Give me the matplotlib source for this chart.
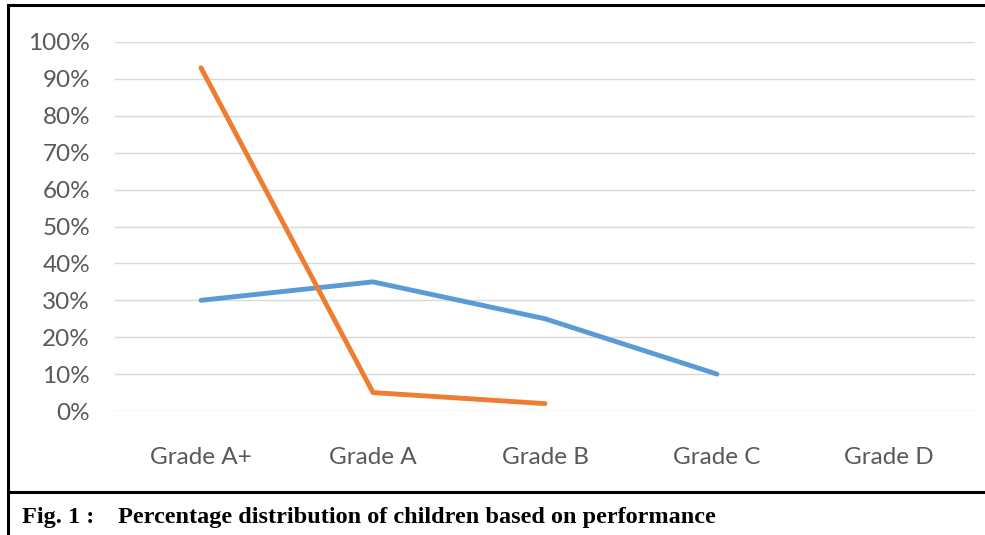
import matplotlib
matplotlib.use('Agg')
import matplotlib.pyplot as plt
from matplotlib.lines import Line2D

# data
grades = ['Grade A+', 'Grade A', 'Grade B', 'Grade C', 'Grade D']
blue_vals = [0.30, 0.35, 0.25, 0.10]
orange_vals = [0.93, 0.05, 0.02]
yticks = [0.0, 0.1, 0.2, 0.3, 0.4, 0.5, 0.6, 0.7, 0.8, 0.9, 1.0]
ytick_labels = ['0%', '10%', '20%', '30%', '40%', '50%', '60%', '70%', '80%', '90%', '100%']
caption_fig = 'Fig. 1 :'
caption_text = 'Percentage distribution of children based on performance'

W, H = 985, 535
fig = plt.figure(figsize=(W / 100, H / 100), dpi=100)

def fx(px):
    return px / W

def fy(py):
    return 1 - py / H

ax = fig.add_axes([fx(115), fy(411), fx(975) - fx(115), fy(42) - fy(411)])

ax.plot(range(len(blue_vals)), blue_vals, color='#5B9BD5', lw=3.5,
        solid_capstyle='round', solid_joinstyle='round', clip_on=False, zorder=3)
ax.plot(range(len(orange_vals)), orange_vals, color='#ED7D31', lw=3.5,
        solid_capstyle='round', solid_joinstyle='round', clip_on=False, zorder=4)

ax.set_xlim(-0.5, len(grades) - 0.5)
ax.set_ylim(0, 1)
ax.set_xticks(range(len(grades)))
ax.set_xticklabels(grades)
ax.set_yticks(yticks)
ax.set_yticklabels(ytick_labels)
ax.grid(axis='y', color='#d9d9d9', lw=1.0)
ax.set_axisbelow(True)
for s in ax.spines.values():
    s.set_visible(False)
ax.tick_params(axis='both', length=0, colors='#595959')
ax.tick_params(axis='y', pad=18)
ax.tick_params(axis='x', pad=26)
for lab in ax.get_xticklabels() + ax.get_yticklabels():
    lab.set_family('Lato')
    lab.set_fontsize(17.5)
    lab.set_color('#595959')

# border frame and caption
lw_frame = 2.2
fig.add_artist(Line2D([fx(8), 1], [fy(5), fy(5)], color='black', lw=lw_frame, transform=fig.transFigure))
fig.add_artist(Line2D([fx(8), fx(8)], [fy(5), 0], color='black', lw=lw_frame, transform=fig.transFigure))
fig.add_artist(Line2D([fx(8), 1], [fy(492), fy(492)], color='black', lw=lw_frame, transform=fig.transFigure))

fig.text(fx(22), fy(518), caption_fig, family='Liberation Serif', weight='bold',
         fontsize=17.5, va='center', ha='left')
fig.text(fx(118), fy(518), caption_text, family='Liberation Serif', weight='bold',
         fontsize=17.5, va='center', ha='left')

fig.savefig('out.png', dpi=100)
